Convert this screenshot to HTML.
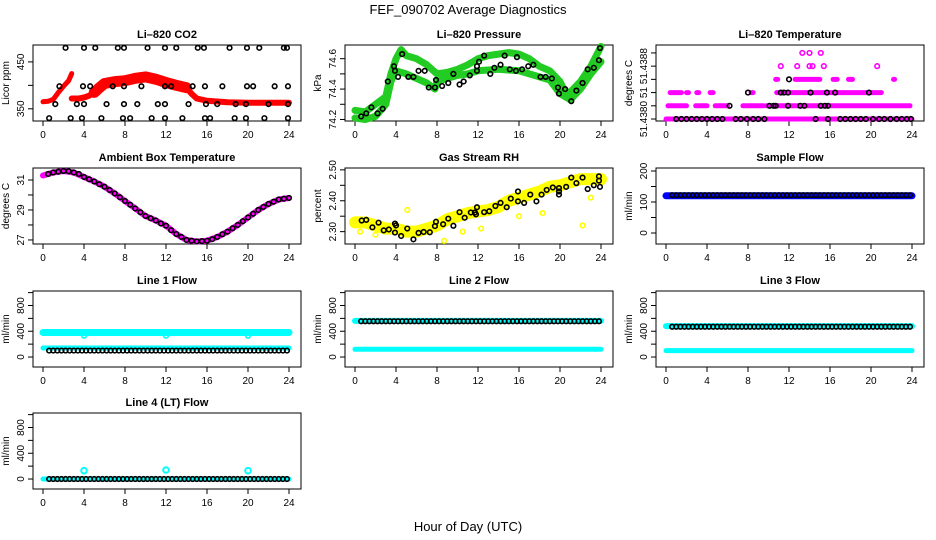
<!DOCTYPE html>
<html><head><meta charset="utf-8">
<style>
html,body{margin:0;padding:0;background:#fff;}
svg{display:block;font-family:"Liberation Sans",sans-serif;}
</style></head>
<body>
<svg id="chart" width="936" height="540" viewBox="0 0 936 540" xmlns="http://www.w3.org/2000/svg">
<text x="468" y="14" text-anchor="middle" font-size="13">FEF_090702  Average Diagnostics</text>
<text x="468" y="531" text-anchor="middle" font-size="13">Hour of Day (UTC)</text>
</svg>
<script>
// ---------- data ----------
const xTicks = [0,4,8,12,16,20,24];
// CO2
const co2RedA_h = [0,0.5,1,1.5,2,2.5,2.8];
const co2RedA_v = [365,366,370,385,398,410,425];
const co2RedB_h = [2.8,3.5,4,4.5,5,5.5,6,7,8,9,10,11,12,13,14,14.5,15,16,18,20,22,24];
const co2RedB_v = [372,372,374,378,385,395,404,408,410,415,418,413,406,400,395,382,372,367,364,363,363,363];
const co2Blk480_h = [2.2,4,5.1,7.3,7.9,10.2,11.9,13,15.1,15.7,18.2,19.9,21.1,23.5,23.8];
const co2Blk398_h = [1.6,3.9,4.6,6.8,7.9,9.6,11.9,12.5,14.6,15.8,17.5,19.9,20.5,22.6,23.9];
const co2Blk360_h = [1.2,3.3,4,6.2,7.9,9.2,11.2,11.9,14.2,15.9,17,18.8,19.8,22,23.9];
const co2Blk330_h = [0.6,2.7,3.8,5.7,7.8,8.5,10.6,11.9,13.6,15.8,16.3,18.7,19.8,21.6,23.9];
// Pressure
const presUp_h = [0,1,2,3,3.5,4,4.5,5,6,7,8,9,10,11,12,13,14,15,16,17,18,19,20,20.5,21,22,23,24];
const presUp_v = [74.26,74.25,74.3,74.35,74.5,74.6,74.66,74.62,74.6,74.56,74.5,74.51,74.53,74.56,74.6,74.62,74.63,74.64,74.63,74.6,74.55,74.52,74.45,74.38,74.38,74.45,74.55,74.68];
const presLo_h = [0,1,2,3,3.5,4,5,6,7,7.8,8,9,10,11,12,14,16,18,19,20,21,22,23,24];
const presLo_v = [74.21,74.2,74.22,74.3,74.45,74.52,74.5,74.47,74.44,74.4,74.45,74.47,74.49,74.5,74.52,74.53,74.52,74.48,74.46,74.37,74.33,74.4,74.5,74.58];
const presBlk_h = [0.6,1.1,1.6,2.2,2.7,3.2,3.8,3.9,4.2,4.6,5.2,5.7,6.2,6.8,7.2,7.8,7.9,8.5,9.1,9.6,10.2,10.6,11.2,11.9,11.9,12.1,12.6,13.2,13.6,14.2,14.6,15.1,15.7,15.8,16.3,16.9,17.4,18.1,18.6,19.2,19.8,19.9,20.5,21.1,21.6,22.2,22.7,23.3,23.8,23.9];
const presBlk_v = [74.22,74.24,74.28,74.24,74.27,74.45,74.55,74.52,74.48,74.63,74.48,74.48,74.52,74.52,74.41,74.41,74.46,74.42,74.44,74.5,74.43,74.45,74.49,74.52,74.55,74.58,74.62,74.5,74.54,74.56,74.62,74.53,74.52,74.61,74.53,74.55,74.56,74.48,74.48,74.47,74.41,74.37,74.4,74.32,74.39,74.44,74.53,74.54,74.59,74.67];
// Li-820 temperature (quantized levels 0..5)
const tempMagSeg = [[0,0,24],[1,0.2,2],[1,2.9,4],[1,4.8,6],[1,7.5,9.5],[1,9.8,23.8],[2,0.4,1.5],[2,2,2.2],[2,3,3.2],[2,4.3,4.6],[2,8.3,8.5],[2,10.8,21],[3,10.7,10.9],[3,12.6,15],[3,16.3,16.7],[3,17.8,18.2],[3,22.2,22.3]];
const tempMagPts_h = [11.2,12.8,14,14.3,15.4,20.6,13.3,14,15.1];
const tempMagPts_l = [4,4,4,4,4,4,5,5,5];
const tempBlk_h = [1,1.5,2,2.5,3,3.5,4,4.5,5,5.5,6.8,7.3,7.9,8.5,9,9.6,14.6,15.8,17,17.5,18,18.5,19,19.5,20.2,20.8,21.3,21.9,22.5,23,23.5,23.9,6.2,10.1,10.5,10.7,11.9,13.1,13.5,15.1,15.5,15.8,8,11.2,11.5,11.9,14.1,15.7,16.5,19.8,12];
const tempBlk_l = [0,0,0,0,0,0,0,0,0,0,0,0,0,0,0,0,0,0,0,0,0,0,0,0,0,0,0,0,0,0,0,0,1,1,1,1,1,1,1,1,1,1,2,2,2,2,2,2,2,2,3];
const tempTicks = [0,1,2,3,4,5];
const tempTickLabels = ["51.4380","","51","","51.4388",""];
// Ambient box temperature
const ambMag_h = [0,1,2,3,4,5,6,7,8,9,10,11,12,13,14,15,16,17,18,19,20,21,22,23,24];
const ambMag_v = [31.3,31.5,31.6,31.5,31.2,30.9,30.55,30.1,29.6,29.1,28.6,28.3,27.95,27.4,27.0,26.9,26.95,27.2,27.55,28.0,28.5,29.0,29.4,29.7,29.8];
const ambBlk_h = [0.5,1,1.5,2,2.5,3,3.5,4,4.5,5,5.5,6,6.5,7,7.5,8,8.5,9,9.5,10,10.5,11,11.5,12,12.5,13,13.5,14,14.5,15,15.5,16,16.5,17,17.5,18,18.5,19,19.5,20,20.5,21,21.5,22,22.5,23,23.5,24];
const ambBlk_v = [31.4,31.5,31.55,31.6,31.58,31.5,31.4,31.2,31.05,30.9,30.72,30.55,30.33,30.1,29.85,29.6,29.35,29.1,28.85,28.6,28.45,28.3,28.1,27.95,27.65,27.4,27.2,27.0,26.95,26.9,26.92,26.95,27.05,27.2,27.38,27.55,27.78,28.0,28.25,28.5,28.75,29.0,29.2,29.4,29.55,29.7,29.75,29.8];
// Gas stream RH
const rhY_h = [0,1,2,3,4,5,6,7,8,9,10,11,12,13,14,15,16,17,18,19,20,21,22,23,24];
const rhY_v = [2.33,2.33,2.32,2.31,2.31,2.30,2.30,2.31,2.32,2.34,2.35,2.36,2.365,2.37,2.38,2.40,2.41,2.42,2.43,2.445,2.45,2.46,2.47,2.47,2.47];
const rhOut_h = [8.7,22.2,18.3,5.1,0.5,16,2,23,12.3,10.5];
const rhOut_v = [2.27,2.32,2.36,2.37,2.30,2.35,2.29,2.41,2.31,2.30];
const rhBlk_h = [0.65,1.1,1.7,2.3,2.8,3.3,3.9,4,3.9,4.5,5.1,5.7,6.2,6.7,7.3,7.8,7.9,8.6,9.1,9.6,10.2,10.7,11.3,11.7,11.8,11.9,12.6,13.1,13.7,14.2,14.8,15.2,15.9,15.9,16.5,17.1,17.7,18.2,18.7,19.3,19.9,19.9,19.9,20.6,21.1,21.6,22.2,22.7,23.3,23.8,23.8,23.9];
const rhBlk_v = [2.336,2.338,2.314,2.329,2.304,2.307,2.326,2.32,2.297,2.286,2.31,2.275,2.296,2.299,2.298,2.318,2.332,2.324,2.342,2.319,2.363,2.345,2.362,2.362,2.356,2.379,2.363,2.366,2.383,2.393,2.379,2.407,2.43,2.398,2.393,2.42,2.398,2.42,2.435,2.443,2.441,2.43,2.42,2.445,2.475,2.457,2.475,2.438,2.45,2.479,2.465,2.445];
// Flow panels
const flowBlk_h = [0.6,1,1.4,1.8,2.2,2.6,3,3.4,3.8,4.2,4.6,5,5.4,5.8,6.2,6.6,7,7.4,7.8,8.2,8.6,9,9.4,9.8,10.2,10.6,11,11.4,11.8,12.2,12.6,13,13.4,13.8,14.2,14.6,15,15.4,15.8,16.2,16.6,17,17.4,17.8,18.2,18.6,19,19.4,19.8,20.2,20.6,21,21.4,21.8,22.2,22.6,23,23.4,23.8];
const sampleBlue = [120,120];
const sampleBlk = 122;
const line1Cyan = [380,140];
const line1Dips_h = [4,12,20];
const line1Dips_v = [330,330,330];
const line1Blk = 100;
const line2Cyan = [560,120];
const line2Blk = 555;
const line3Cyan = [480,100];
const line3Blk = 470;
const line4Cyan = [0];
const line4Spikes_h = [4,12,20];
const line4Spikes_v = [130,140,130];
const line4Blk = 0;

// ---------- drawing ----------
const NS = "http://www.w3.org/2000/svg";
const svg = document.getElementById('chart');
const colL = [33,345,656], rowT = [45,168,291,413], W = 268, H = 76;
function mk(tag, attrs, parent){
  const e = document.createElementNS(NS, tag);
  for (const k in attrs) e.setAttribute(k, attrs[k]);
  (parent||svg).appendChild(e); return e;
}
function makePanel(col,row,name,title,ylab,ymin,ymax,ticks,labels){
  const L = colL[col], T = rowT[row];
  const g = mk('g',{});
  
  
  const P = {g, L, T,
    x: h => L + 10 + h/24*246,
    y: v => T + H - (v-ymin)/(ymax-ymin)*H};
  const box = mk('rect',{x:L,y:T,width:W,height:H,fill:'none',stroke:'#000','stroke-width':1},g);
  
  
  const t = mk('text',{x:L+W/2,y:T-7,'text-anchor':'middle','font-size':11,'font-weight':'bold'},g);
  t.textContent = title;
  
  
  const yl = mk('text',{transform:`translate(${L-24},${T+H/2}) rotate(-90)`,'text-anchor':'middle','font-size':10},g);
  yl.textContent = ylab;
  
  
  const xa = mk('g',{},g);
  
  
  xTicks.forEach(h=>{
    const px = P.x(h);
    mk('line',{x1:px,x2:px,y1:T+H,y2:T+H+5,stroke:'#000'},xa);
    const tx = mk('text',{x:px,y:T+H+17,'text-anchor':'middle','font-size':10},xa);
    tx.textContent = h;
  });
  const ya = mk('g',{},g);
  
  
  ticks.forEach((v,i)=>{
    const py = P.y(v);
    mk('line',{x1:L-5,x2:L,y1:py,y2:py,stroke:'#000'},ya);
    if (labels[i]) {
      const tx = mk('text',{transform:`translate(${L-9},${py}) rotate(-90)`,'text-anchor':'middle','font-size':10},ya);
      tx.textContent = labels[i];
    }
  });
  return P;
}
function pts(P,hs,vs,color,name,r,sw){
  const g = mk('g',{},P.g);
  
  
  hs.forEach((h,i)=>{
    mk('circle',{cx:P.x(h),cy:P.y(vs[i]),r:r||2.3,fill:'none',stroke:color,'stroke-width':sw||1.6},g);
  });
}
function band(P,hs,vs,color,name,w){
  const d = hs.map((h,i)=>(i?'L':'M')+P.x(h).toFixed(1)+','+P.y(vs[i]).toFixed(1)).join('');
  const p = mk('path',{d,fill:'none',stroke:color,'stroke-width':w,'stroke-linejoin':'round','stroke-linecap':'round'},P.g);
  
  
}
function flat(P,h0,h1,v,color,name,w){ band(P,[h0,h1],[v,v],color,name,w); }
function consts(arr,v){ return arr.map(()=>v); }

// CO2
let P = makePanel(0,0,'co2','Li\u2013820 CO2','Licor ppm',324,486,[350,400,450],['350','','450']);
band(P,co2RedA_h,co2RedA_v,'#ff0000','co2-red-series-a',5);
band(P,co2RedB_h,co2RedB_v,'#ff0000','co2-red-series-b',6);
band(P,co2RedB_h.slice(4,15),co2RedB_v.slice(4,15),'#ff0000','co2-red-series-spread',11);
pts(P,co2Blk480_h,consts(co2Blk480_h,480),'#000','co2-black-480');
pts(P,co2Blk398_h,consts(co2Blk398_h,398),'#000','co2-black-398');
pts(P,co2Blk360_h,consts(co2Blk360_h,360),'#000','co2-black-360');
pts(P,co2Blk330_h,consts(co2Blk330_h,330),'#000','co2-black-330');

// Pressure
P = makePanel(1,0,'pressure','Li\u2013820 Pressure','kPa',74.19,74.69,[74.2,74.3,74.4,74.5,74.6],['74.2','','74.4','','74.6']);
band(P,presUp_h,presUp_v,'#22cc22','pressure-green-upper',7);
band(P,presLo_h,presLo_v,'#22cc22','pressure-green-lower',7);
pts(P,presBlk_h,presBlk_v,'#000','pressure-black-points');

// Li-820 temperature
P = makePanel(2,0,'li820-temp','Li\u2013820 Temperature','degrees C',-0.15,5.6,tempTicks,tempTickLabels);
tempMagSeg.forEach((s,i)=>flat(P,s[1],s[2],s[0],'#ff00ff','temp-magenta-run-'+i,5));
pts(P,tempMagPts_h,tempMagPts_l,'#ff00ff','temp-magenta-points');
pts(P,tempBlk_h,tempBlk_l,'#000','temp-black-points');

// Ambient
P = makePanel(0,1,'ambient','Ambient Box Temperature','degrees C',26.73,31.8,[27,28,29,30,31],['27','','29','','31']);
band(P,ambMag_h,ambMag_v,'#ff00ff','ambient-magenta-series',6);
pts(P,ambBlk_h,ambBlk_v,'#000','ambient-black-points');

// RH
P = makePanel(1,1,'rh','Gas Stream RH','percent',2.26,2.506,[2.30,2.35,2.40,2.45,2.50],['2.30','','2.40','','2.50']);
band(P,rhY_h,rhY_v,'#ffff00','rh-yellow-series',12);
pts(P,rhOut_h,rhOut_v,'#ffff00','rh-yellow-outliers');
pts(P,rhBlk_h,rhBlk_v,'#000','rh-black-points');

// Sample flow
P = makePanel(2,1,'sample-flow','Sample Flow','ml/min',-35.5,209.7,[0,50,100,150,200],['0','','100','','200']);
flat(P,0,24,sampleBlue[0],'#0000ff','sample-blue-series',7);
pts(P,flowBlk_h,consts(flowBlk_h,sampleBlk),'#000','sample-black-points');

const flowTicks = [0,200,400,600,800,1000], flowLabels = ['0','','400','','800',''];
// Line 1
P = makePanel(0,2,'line1','Line 1 Flow','ml/min',-155,1025,flowTicks,flowLabels);
flat(P,0,24,line1Cyan[0],'#00ffff','line1-cyan-upper',7);
flat(P,0,24,line1Cyan[1],'#00ffff','line1-cyan-lower',5);
pts(P,line1Dips_h,line1Dips_v,'#00ffff','line1-cyan-dips');
pts(P,flowBlk_h,consts(flowBlk_h,line1Blk),'#000','line1-black-points');
// Line 2
P = makePanel(1,2,'line2','Line 2 Flow','ml/min',-155,1025,flowTicks,flowLabels);
flat(P,0,24,line2Cyan[0],'#00ffff','line2-cyan-upper',6);
flat(P,0,24,line2Cyan[1],'#00ffff','line2-cyan-lower',5);
pts(P,flowBlk_h,consts(flowBlk_h,line2Blk),'#000','line2-black-points');
// Line 3
P = makePanel(2,2,'line3','Line 3 Flow','ml/min',-155,1025,flowTicks,flowLabels);
flat(P,0,24,line3Cyan[0],'#00ffff','line3-cyan-upper',6);
flat(P,0,24,line3Cyan[1],'#00ffff','line3-cyan-lower',5);
pts(P,flowBlk_h,consts(flowBlk_h,line3Blk),'#000','line3-black-points');
// Line 4
P = makePanel(0,3,'line4','Line 4 (LT) Flow','ml/min',-155,1025,flowTicks,flowLabels);
flat(P,0,24,line4Cyan[0],'#00ffff','line4-cyan-series',5);
pts(P,line4Spikes_h,line4Spikes_v,'#00ffff','line4-cyan-spikes',2.8,2);
pts(P,flowBlk_h,consts(flowBlk_h,line4Blk),'#000','line4-black-points');
</script>
</body></html>
